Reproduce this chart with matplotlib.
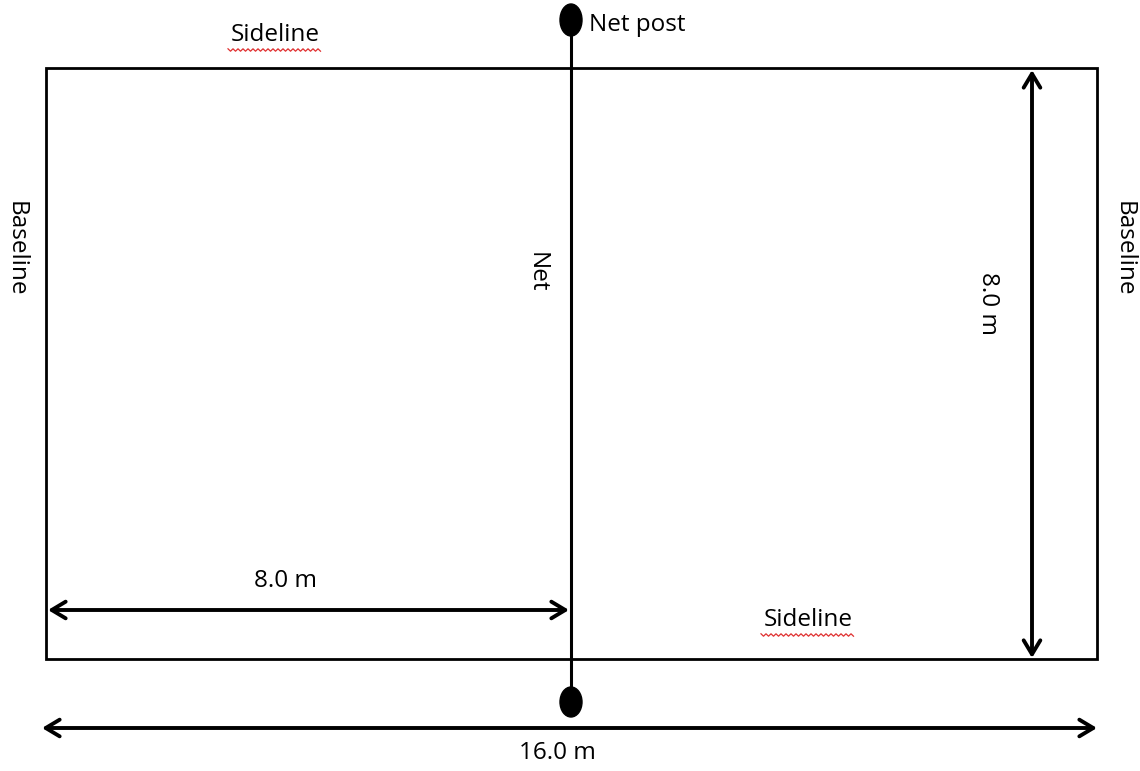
import matplotlib
matplotlib.use("Agg")
import matplotlib.pyplot as plt
from matplotlib.patches import Rectangle, Ellipse
import numpy as np

# Court geometry in pixel-like units (y downward)
court_left, court_right = 46, 1097
court_top, court_bottom = 68, 659
net_x = 571
net_top, net_bottom = 22, 703

labels = ["Sideline", "Net post", "Baseline", "Baseline", "Net", "8.0 m", "8.0 m", "Sideline", "16.0 m"]
label_x = [275, 589, 16, 1124, 537, 286, 988, 808, 557]
label_y = [35, 25, 249, 249, 272, 581, 304, 620, 753]
label_rot = [0, 0, -90, -90, -90, 0, -90, 0, 0]
label_ha = ["center", "left", "center", "center", "center", "center", "center", "center", "center"]

fig = plt.figure(figsize=(11.40, 7.71), dpi=100)
ax = fig.add_axes([0, 0, 1, 1])
ax.set_xlim(0, 1140)
ax.set_ylim(771, 0)
ax.axis("off")

font = ["Open Sans", "DejaVu Sans"]

ax.add_patch(Rectangle((court_left, court_top), court_right - court_left, court_bottom - court_top,
                       fill=False, edgecolor="black", linewidth=2.0))
ax.plot([net_x, net_x], [net_top, net_bottom], color="black", linewidth=2.2)
ax.add_patch(Ellipse((net_x, 20), 22, 32, color="black"))
ax.add_patch(Ellipse((net_x, 702), 22, 30, color="black"))

arrow_kw = dict(arrowstyle="<->,head_length=1.0,head_width=0.6", color="black", lw=2.8,
                shrinkA=0, shrinkB=0)
ax.annotate("", xy=(569, 610), xytext=(48, 610), arrowprops=arrow_kw)
ax.annotate("", xy=(1097, 728), xytext=(42, 728), arrowprops=arrow_kw)
ax.annotate("", xy=(1032, 658), xytext=(1032, 70), arrowprops=arrow_kw)

for t, x, y, r, ha in zip(labels, label_x, label_y, label_rot, label_ha):
    ax.text(x, y, t, rotation=r, ha=ha, va="center", fontsize=17.5, family=font, color="black")

# red squiggly underlines under "Sideline"
for cx, cy in [(275, 50), (808, 635)]:
    xs = np.arange(cx - 47, cx + 48, 2.5)
    ys = cy + np.where(np.arange(len(xs)) % 2 == 0, -1.2, 1.2)
    ax.plot(xs, ys, color="#e03030", linewidth=0.9)

fig.savefig("out.png", dpi=100)
